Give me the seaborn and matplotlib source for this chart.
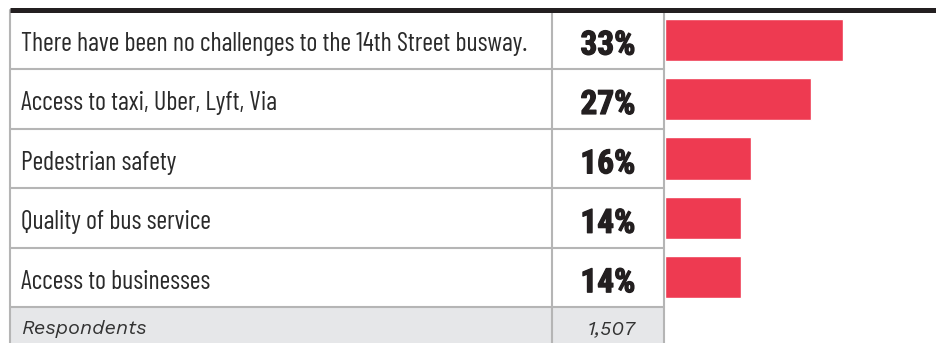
import matplotlib
matplotlib.use("Agg")
import matplotlib.pyplot as plt
from matplotlib import transforms
from matplotlib import patheffects
from matplotlib.lines import Line2D
from matplotlib.patches import Rectangle
import pandas as pd
import seaborn as sns

# Survey answers and their shares (percent)
challenges = [
    "There have been no challenges to the 14th Street busway.",
    "Access to taxi, Uber, Lyft, Via",
    "Pedestrian safety",
    "Quality of bus service",
    "Access to businesses",
]
shares = [33, 27, 16, 14, 14]
respondents_label = "Respondents"
respondents_count = "1,507"

df = pd.DataFrame({"challenge": challenges, "share": shares})

W, H = 936, 343
BAR_RED = "#ee3a51"
INK = "#231f20"
RULE = "#b5b5b5"
FOOT_BG = "#e6e7e9"

sns.set_theme(style="white")

fig = plt.figure(figsize=(W / 100, H / 100), dpi=100)


def fx(px):
    return px / W


def fy(py):
    return 1 - py / H


table_top, table_bottom = 10, 307
left_edge, mid_edge, right_edge = 10, 552, 664

# bar panel occupies the column right of the table, one row per answer
ax = fig.add_axes([fx(665), fy(table_bottom), fx(W) - fx(665), fy(table_top) - fy(table_bottom)])
sns.barplot(data=df, x="share", y="challenge", color=BAR_RED, width=0.71,
            saturation=1, ax=ax, orient="h")
ax.set_xlim(0, 50.2)
ax.set_ylim(len(challenges) - 0.5, -0.5)
ax.set_axis_off()

# grey footer row
fig.add_artist(Rectangle((fx(left_edge), fy(H)), fx(right_edge) - fx(left_edge),
                         fy(table_bottom) - fy(H), transform=fig.transFigure,
                         facecolor=FOOT_BG, edgecolor="none", zorder=0))

# horizontal rules between rows (left part only)
row_tr = transforms.blended_transform_factory(fig.transFigure, ax.transData)
for i in range(1, len(challenges) + 1):
    fig.add_artist(Line2D([fx(left_edge), fx(right_edge)], [i - 0.5, i - 0.5],
                          transform=row_tr, color=RULE, lw=1.5, zorder=2))

# vertical rules
for xp in (left_edge, mid_edge, right_edge):
    fig.add_artist(Line2D([fx(xp), fx(xp)], [fy(table_top), fy(H)],
                          transform=fig.transFigure, color=RULE, lw=1.5, zorder=2))

# heavy top rule
fig.add_artist(Line2D([fx(left_edge), 1], [fy(9.5), fy(9.5)],
                      transform=fig.transFigure, color=INK, lw=3.6,
                      solid_capstyle="butt", zorder=3))

# row texts; percentages get a thin outline for a heavier look
heavy = [patheffects.withStroke(linewidth=0.9, foreground=INK)]
for i, (label, val) in enumerate(zip(challenges, shares)):
    fig.text(fx(21), i + 0.03, label, transform=row_tr, ha="left", va="center_baseline",
             fontsize=18.8, family="Barlow Condensed", color="#2a2a2a")
    fig.text(fx(608), i + 0.04, f"{val}%", transform=row_tr, ha="center", va="center_baseline",
             fontsize=24, family="Roboto Condensed", fontweight="bold", color=INK,
             path_effects=heavy)

foot_y = fy(327)
fig.text(fx(21), foot_y, respondents_label, ha="left", va="center_baseline",
         fontsize=14.5, family="Work Sans", style="italic", color="#333333")
fig.text(fx(611), foot_y, respondents_count, ha="center", va="center_baseline",
         fontsize=14.5, family="Work Sans", style="italic", color="#333333")

fig.savefig("out.png", dpi=100)
